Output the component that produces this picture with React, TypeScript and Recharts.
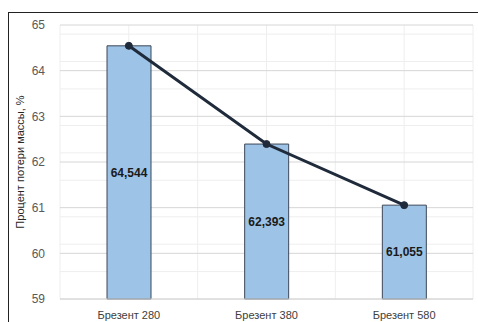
import {
  ComposedChart,
  Bar,
  Line,
  LabelList,
  XAxis,
  YAxis,
  CartesianGrid,
} from "recharts";

const categories = ["Брезент 280", "Брезент 380", "Брезент 580"];
const massLoss = [64.544, 62.393, 61.055];
const yTicks = [59, 60, 61, 62, 63, 64, 65];
const minorTicks = [
  59.2, 59.4, 59.6, 59.8, 60.2, 60.4, 60.6, 60.8, 61.2, 61.4, 61.6, 61.8,
  62.2, 62.4, 62.6, 62.8, 63.2, 63.4, 63.6, 63.8, 64.2, 64.4, 64.6, 64.8,
];

const data = categories.map((name, i) => ({ name, value: massLoss[i] }));

const font = "'Liberation Sans', Arial, sans-serif";
const fmt = (v: number) => v.toFixed(3).replace(".", ",");

// vertical grid at band edges and centres, like Excel minor gridlines
const verticalLines = ({ offset }: any) => {
  const step = offset.width / (categories.length * 2);
  return Array.from({ length: categories.length * 2 + 1 }, (_, i) => offset.left + i * step);
};

export default function App() {
  return (
    <div
      style={{
        position: "absolute",
        left: 8,
        top: 12,
        width: 470,
        height: 310,
        borderTop: "1.5px solid #222",
        borderLeft: "1.5px solid #222",
        background: "#fff",
        fontFamily: font,
      }}
    >
      <ComposedChart
        width={468}
        height={308}
        data={data}
        margin={{ top: 12, right: 4, bottom: 0, left: 0 }}
      >
        <CartesianGrid
          stroke="#EEEEEE"
          horizontalValues={minorTicks}
          verticalCoordinatesGenerator={verticalLines}
        />
        <CartesianGrid stroke="#D6D6D6" vertical={false} horizontalValues={yTicks} />
        <XAxis
          dataKey="name"
          axisLine={{ stroke: "#D6D6D6" }}
          tickLine={false}
          height={22}
          tick={{ fontSize: 11, fill: "#404040", fontFamily: font }}
          tickMargin={6}
        />
        <YAxis
          domain={[59, 65]}
          ticks={yTicks}
          width={51}
          axisLine={false}
          tickLine={false}
          tick={{ fontSize: 12, fill: "#595959", fontFamily: font }}
          tickMargin={9}
          label={{
            value: "Процент потери массы, %",
            angle: -90,
            position: "center",
            dx: -14,
            style: { fontSize: 11, fill: "#262626", fontFamily: font },
          }}
        />
        <Bar
          dataKey="value"
          barSize={44}
          fill="#9DC3E6"
          stroke="#3C4858"
          strokeWidth={1}
          isAnimationActive={false}
        >
          <LabelList
            dataKey="value"
            position="center"
            formatter={(v: any) => fmt(Number(v))}
            style={{ fontSize: 12, fontWeight: 700, fill: "#1A1A1A", fontFamily: font }}
          />
        </Bar>
        <Line
          dataKey="value"
          stroke="#1F2B3B"
          strokeWidth={3}
          dot={{ r: 3.5, fill: "#1F2B3B", stroke: "#1F2B3B", strokeWidth: 1 }}
          isAnimationActive={false}
        />
      </ComposedChart>
    </div>
  );
}
